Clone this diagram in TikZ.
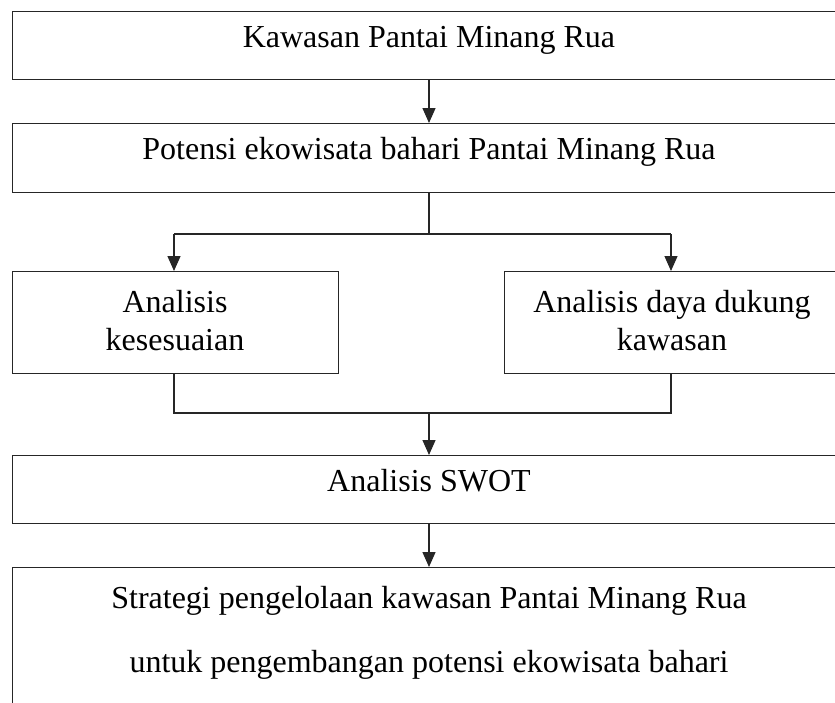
\documentclass[tikz,border=0pt]{standalone}
\usepackage{fontspec}
\setmainfont{Liberation Serif}
\usetikzlibrary{arrows.meta}
\begin{document}
\begin{tikzpicture}[x=1pt,y=-1pt,
  box/.style={draw=black!85, line width=1.3pt, inner sep=0pt, anchor=north west},
  txt/.style={anchor=base, inner sep=0pt, font=\fontsize{32}{38}\selectfont},
  conn/.style={draw=black!85, line width=1.3pt},
  arr/.style={conn, -{Triangle[width=13pt,length=15pt]}}]
\useasboundingbox (0,0) rectangle (835,702);
\clip (0,0) rectangle (835,702);
\fill[white] (0,0) rectangle (835,702);
% boxes
\node[box, minimum width=834pt, minimum height=68pt] (b1) at (12,11) {};
\node[box, minimum width=834pt, minimum height=69pt] (b2) at (12,123) {};
\node[box, minimum width=326pt, minimum height=102pt] (bl) at (12,271) {};
\node[box, minimum width=342pt, minimum height=102pt] (br) at (504,271) {};
\node[box, minimum width=834pt, minimum height=68pt] (b5) at (12,455) {};
\node[box, minimum width=834pt, minimum height=200pt] (b6) at (12,567) {};
% texts
\node[txt] (t1) at (429,47) {Kawasan Pantai Minang Rua};
\node[txt] (t2) at (429,159) {Potensi ekowisata bahari Pantai Minang Rua};
\node[txt] (tl1) at (175,312) {Analisis};
\node[txt] (tl2) at (175,350) {kesesuaian};
\node[txt] (tr1) at (672,312) {Analisis daya dukung};
\node[txt] (tr2) at (672,350) {kawasan};
\node[txt] (t5) at (429,491) {Analisis SWOT};
\node[txt] (t6a) at (429,608) {Strategi pengelolaan kawasan Pantai Minang Rua};
\node[txt] (t6b) at (429,672) {untuk pengembangan potensi ekowisata bahari};
% connector coordinates
\coordinate (s1) at (429,79);
\coordinate (e1) at (429,123);
\coordinate (s2) at (429,192);
\coordinate (j1) at (429,234);
\coordinate (jl) at (174,234);
\coordinate (jr) at (671,234);
\coordinate (el) at (174,271);
\coordinate (er) at (671,271);
\coordinate (sl) at (174,373);
\coordinate (sr) at (671,373);
\coordinate (hl) at (174,413);
\coordinate (hr) at (671,413);
\coordinate (j2) at (429,413);
\coordinate (e5) at (429,455);
\coordinate (s5) at (429,523);
\coordinate (e6) at (429,567);
% connectors
\draw[arr] (s1) -- (e1);
\draw[conn] (s2) -- (j1);
\draw[conn] (jl) -- (jr);
\draw[arr] (jl) -- (el);
\draw[arr] (jr) -- (er);
\draw[conn] (sl) -- (hl) -- (hr) -- (sr);
\draw[arr] (j2) -- (e5);
\draw[arr] (s5) -- (e6);
\end{tikzpicture}
\end{document}
